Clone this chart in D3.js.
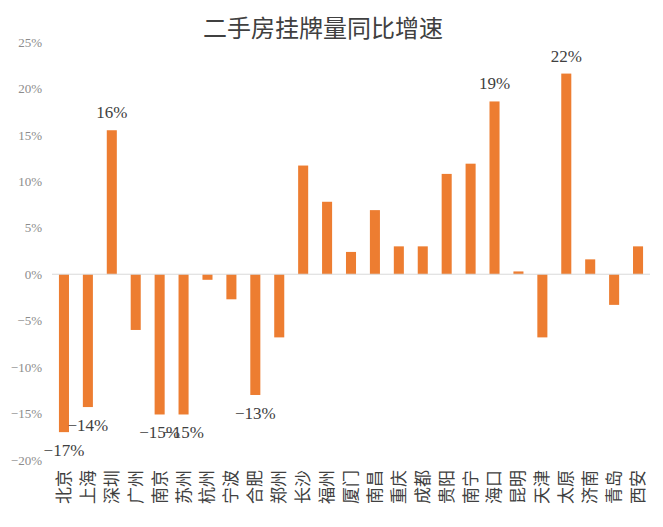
<!DOCTYPE html>
<html>
<head>
<meta charset="utf-8">
<script src="https://cdn.jsdelivr.net/npm/d3@7"></script>
<style>
  body { margin: 0; background: #fff; }
  svg { display: block; }
</style>
</head>
<body>
<div id="chart"></div>
<script>
// Data (percent)
var cities = ["北京", "上海", "深圳", "广州", "南京", "苏州", "杭州", "宁波", "合肥", "郑州",
  "长沙", "福州", "厦门", "南昌", "重庆", "成都", "贵阳", "南宁", "海口", "昆明",
  "天津", "太原", "济南", "青岛", "西安"]
var growth = [-17.0, -14.3, 15.5, -6.0, -15.1, -15.1, -0.6, -2.7, -13.0, -6.8,
  11.7, 7.8, 2.4, 6.9, 3.0, 3.0, 10.8, 11.9, 18.6, 0.3,
  -6.8, 21.6, 1.6, -3.3, 3.0]
var labelled = ["北京", "上海", "深圳", "南京", "苏州", "合肥", "海口", "太原"]
var yTicks = [-20, -15, -10, -5, 0, 5, 10, 15, 20, 25]

var width = 663, height = 527
var svg = d3.select("#chart")
  .append("svg")
  .attr("width", width)
  .attr("height", height)

// Title
svg.append("text")
  .attr("x", 323)
  .attr("y", 37)
  .attr("text-anchor", "middle")
  .style("font-family", "'Noto Sans CJK SC'")
  .style("font-size", "24px")
  .style("fill", "#404040")
  .text("二手房挂牌量同比增速")

// Scales
var xScale = d3.scaleBand()
  .domain(cities)
  .range([52, 650])
  .paddingInner(0.58)
  .paddingOuter(0.29)

var yScale = d3.scaleLinear()
  .domain([-20, 25])
  .range([460, 42])

// Y axis labels only (no line, no gridlines)
var yAxis = d3.axisLeft(yScale)
  .tickValues(yTicks)
  .tickSize(0)
  .tickPadding(0)
  .tickFormat(d => (d < 0 ? "\u2212" + Math.abs(d) : d) + "%")

svg.append("g")
  .attr("transform", "translate(42,0)")
  .attr("class", "y-axis")
  .call(yAxis)
  .call(g => g.select(".domain").remove())
  .selectAll("text")
  .style("font-family", "'Liberation Serif'")
  .style("font-size", "13px")
  .style("fill", "#8c8c8c")

// Bars
svg.selectAll("bars")
  .data(cities)
  .enter()
  .append("rect")
  .attr("x", d => xScale(d))
  .attr("width", xScale.bandwidth())
  .attr("y", (d, i) => yScale(Math.max(0, growth[i])))
  .attr("height", (d, i) => Math.abs(yScale(growth[i]) - yScale(0)))
  .style("fill", "#ED7D31")

// Zero line
svg.append("line")
  .attr("x1", 52)
  .attr("x2", 650)
  .attr("y1", yScale(0))
  .attr("y2", yScale(0))
  .style("stroke", "#d9d9d9")
  .style("stroke-width", 1)

// Data labels on selected bars
svg.selectAll("labels")
  .data(cities.filter(c => labelled.includes(c)))
  .enter()
  .append("text")
  .attr("x", d => xScale(d) + xScale.bandwidth() / 2)
  .attr("y", d => {
    var v = growth[cities.indexOf(d)]
    return v >= 0 ? yScale(v) - 12 : yScale(v) + 24
  })
  .attr("text-anchor", "middle")
  .style("font-family", "'Liberation Serif'")
  .style("font-size", "17px")
  .style("fill", "#404040")
  .text(d => {
    var r = Math.round(growth[cities.indexOf(d)])
    return (r < 0 ? "\u2212" + Math.abs(r) : r) + "%"
  })

// X axis category labels, rotated
var xAxis = d3.axisBottom(xScale).tickSize(0).tickPadding(0)
svg.append("g")
  .attr("transform", "translate(0,470)")
  .attr("class", "x-axis")
  .call(xAxis)
  .call(g => g.select(".domain").remove())
  .selectAll("text")
  .attr("transform", "rotate(-90)")
  .attr("x", 0)
  .attr("y", 0)
  .attr("dy", "0.35em")
  .attr("text-anchor", "end")
  .style("font-family", "'Noto Sans CJK SC'")
  .style("font-size", "17px")
  .style("fill", "#404040")
</script>
</body>
</html>
